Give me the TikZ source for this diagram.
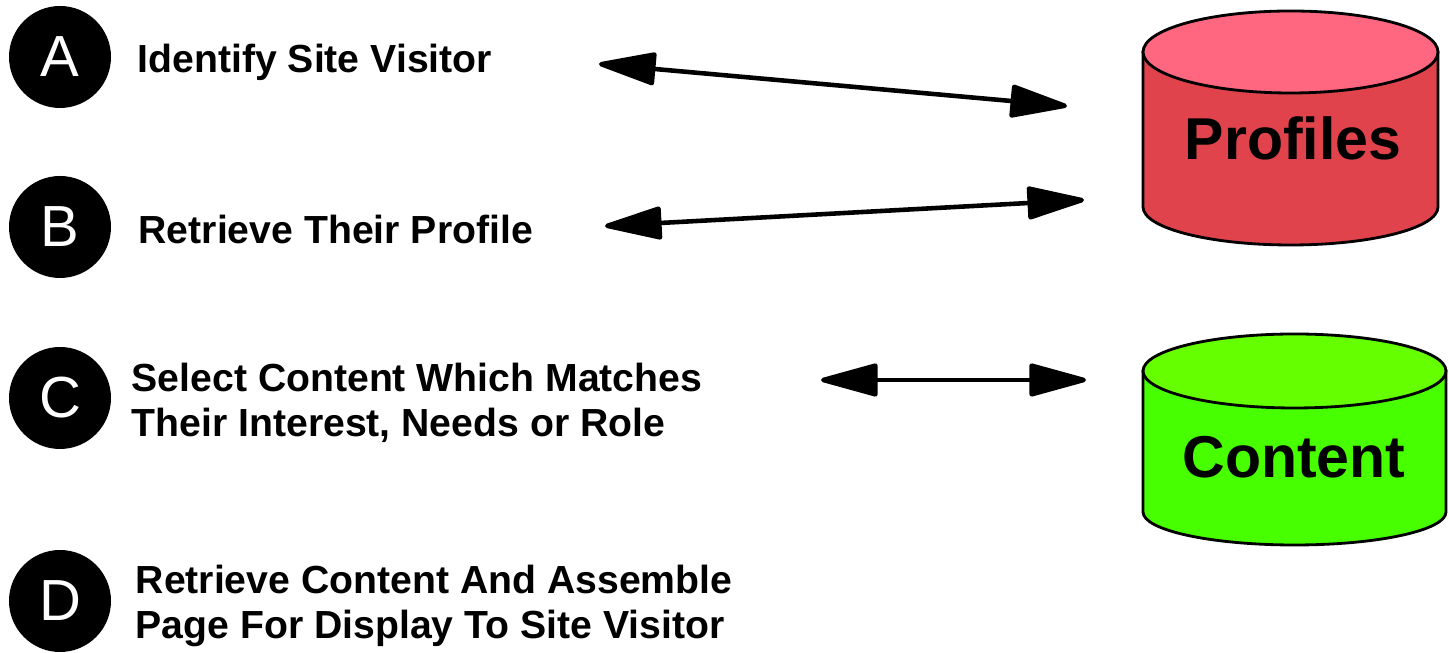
\documentclass[tikz,border=0pt]{standalone}
\usepackage{fontspec}
\setmainfont{Liberation Sans}
\usetikzlibrary{arrows.meta}
\definecolor{profileside}{RGB}{224,67,76}
\definecolor{profiletop}{RGB}{255,102,128}
\definecolor{contentside}{RGB}{72,255,0}
\definecolor{contenttop}{RGB}{102,255,0}
\tikzset{
  stepdot/.style={circle,fill=black,text=white,minimum size=1.02cm,inner sep=0pt,font=\fontsize{16.5}{16.5}\selectfont},
  steptext/.style={anchor=west,align=left,inner sep=0pt,font=\fontsize{11.15}{12.8}\selectfont\bfseries},
  storelabel/.style={font=\fontsize{16.8}{20}\selectfont\bfseries},
  link/.style={line width=1.3pt,{Triangle[length=18pt,width=9.5pt,round]}-{Triangle[length=18pt,width=9.5pt,round]}},
}
\begin{document}
\begin{tikzpicture}
\useasboundingbox(0,0) rectangle (14.49,6.53);
%
\node[stepdot](a)at(0.60,5.96){A};
\node[stepdot](b)at(0.60,4.26){B};
\node[stepdot](c)at(0.60,2.55){C};
\node[stepdot](d)at(0.60,0.52){D};
%
\node[steptext](ta)at(1.37,5.91){Identify Site Visitor};
\node[steptext](tb)at(1.38,4.23){Retrieve Their Profile};
\node[steptext](tc)at(1.31,2.50){Select Content Which Matches\\Their Interest, Needs or Role};
\node[steptext](td)at(1.35,0.47){Retrieve Content And Assemble\\Page For Display To Site Visitor};
%
\draw[line width=0.8pt,fill=profileside](11.43,6.01)--(11.43,4.46)
  arc(180:360:1.475 and 0.38)--(14.38,6.01)--cycle;
\draw[line width=0.8pt,fill=profiletop](12.905,6.01)ellipse(1.475 and 0.41);
\node[storelabel](profiles)at(12.93,5.15){Profiles};
%
\draw[line width=0.8pt,fill=contentside](11.43,2.82)--(11.43,1.41)
  arc(180:360:1.515 and 0.33)--(14.46,2.82)--cycle;
\draw[line width=0.8pt,fill=contenttop](12.945,2.82)ellipse(1.515 and 0.37);
\node[storelabel](content)at(12.94,1.96){Content};
%
\coordinate(a1)at(5.99,5.89);
\coordinate(a2)at(10.67,5.47);
\coordinate(b1)at(6.05,4.27);
\coordinate(b2)at(10.84,4.53);
\coordinate(c1)at(8.21,2.73);
\coordinate(c2)at(10.86,2.73);
\draw[link](a1)--(a2);
\draw[link](b1)--(b2);
\draw[link](c1)--(c2);
\end{tikzpicture}
\end{document}
